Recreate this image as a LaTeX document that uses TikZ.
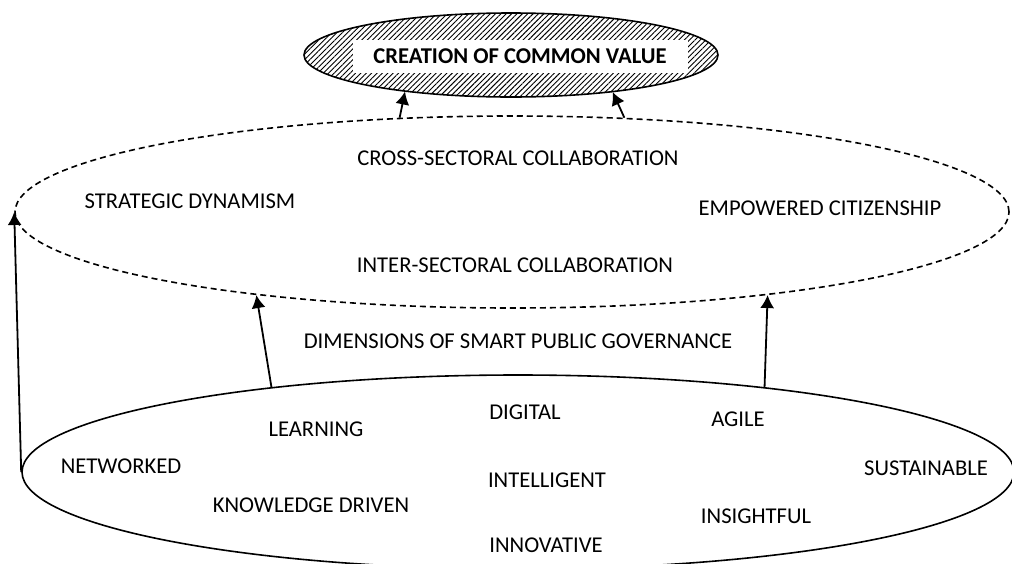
\documentclass[tikz,border=0pt]{standalone}
\usepackage{fontspec}
\setmainfont{Carlito}
\usetikzlibrary{shapes.geometric,patterns.meta,arrows.meta}
\begin{document}
\begin{tikzpicture}[x=0.5pt,y=-0.5pt,
  ell/.style={ellipse,draw,line width=0.8pt,inner sep=0pt},
  lbl/.style={font=\fontsize{11.3}{13}\selectfont,inner sep=0pt},
  arr/.style={-{Latex[length=6.5pt,width=7pt]},line width=0.9pt}]
\path[use as bounding box,clip] (0,0) rectangle (1012,563);
% ellipses
\node[ell,minimum width=496pt,minimum height=97pt] (low) at (518,472) {};
\node[ell,dash pattern=on 3pt off 2pt,minimum width=497pt,minimum height=96pt] (mid) at (512,212) {};
\node[ell,pattern={Lines[angle=45,distance=1.9pt,line width=0.45pt]},minimum width=207pt,minimum height=42pt] (top) at (511,55) {};
\node[fill=white,inner sep=0pt,minimum width=167.5pt,minimum height=16.5pt,font=\fontsize{11.3}{13}\selectfont\bfseries] (cv) at (520,56.5) {CREATION OF COMMON VALUE};
% labels in the middle ellipse
\node[lbl] (cross) at (518,158) {CROSS-SECTORAL COLLABORATION};
\node[lbl] (strat) at (190,201) {STRATEGIC DYNAMISM};
\node[lbl] (emp) at (820,208) {EMPOWERED CITIZENSHIP};
\node[lbl] (inter) at (515,265) {INTER-SECTORAL COLLABORATION};
\node[lbl] (dims) at (518,341) {DIMENSIONS OF SMART PUBLIC GOVERNANCE};
% labels in the bottom ellipse
\node[lbl] (learn) at (316,429) {LEARNING};
\node[lbl] (digital) at (525,412) {DIGITAL};
\node[lbl] (agile) at (738,419) {AGILE};
\node[lbl] (net) at (121,466) {NETWORKED};
\node[lbl] (sust) at (926,468) {SUSTAINABLE};
\node[lbl] (intel) at (547,480) {INTELLIGENT};
\node[lbl] (know) at (311,505) {KNOWLEDGE DRIVEN};
\node[lbl] (insight) at (756,516) {INSIGHTFUL};
\node[lbl] (innov) at (546,545) {INNOVATIVE};
% connectors
\draw[arr] (low.west) -- (mid.west);
\draw[arr] (low.161.5) -- (mid.198.3);
\draw[arr] (low.19.5) -- (mid.342.3);
\draw[arr] (mid.140.6) -- (top.199.4);
\draw[arr] (mid.40.5) -- (top.340.6);
\end{tikzpicture}
\end{document}
